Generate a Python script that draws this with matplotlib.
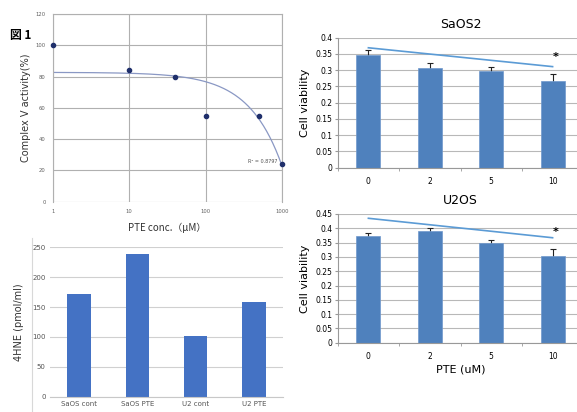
import numpy as np
import matplotlib
matplotlib.use("Agg")
import matplotlib.pyplot as plt
from matplotlib.lines import Line2D

# ---------------- data ----------------
conc_uM = [1, 10, 40, 100, 500, 1000]
complex5_activity = [100, 84, 79.5, 55, 55, 24]
r2_label = "R² = 0.8797"

hne_groups = ["SaOS cont", "SaOS PTE", "U2 cont", "U2 PTE"]
hne_values = [172, 238, 101, 158]

pte_labels = ["0", "2", "5", "10"]
saos2_viab = [0.347, 0.307, 0.299, 0.268]
saos2_err = [0.014, 0.015, 0.010, 0.019]
saos2_trend = [0.369, 0.311]   # hand-drawn trend line endpoints (at 0 and 10)
saos2_star = 0.342

u2os_viab = [0.373, 0.390, 0.349, 0.303]
u2os_err = [0.009, 0.010, 0.009, 0.024]
u2os_trend = [0.435, 0.367]
u2os_star = 0.388

FONTS = ['DejaVu Sans', 'Noto Sans CJK JP']
plt.rcParams['font.family'] = FONTS

fig = plt.figure(figsize=(5.77, 4.12), dpi=100)
W, H = 577, 412


def ax_px(left, top, right, bottom):
    return fig.add_axes([left / W, 1 - bottom / H, (right - left) / W, (bottom - top) / H])


# ---------------- top-left: Complex V activity ----------------
ax1 = ax_px(52.7, 14, 282, 201.7)
ax1.set_xscale('log')
ax1.set_xlim(1, 1000)
ax1.set_ylim(0, 120)
ax1.set_yticks(np.arange(0, 121, 20))
ax1.set_xticks([1, 10, 100, 1000])
ax1.set_xticklabels(["1", "10", "100", "1000"])
ax1.minorticks_off()
ax1.grid(True, color='#b0b0b0', lw=0.8)
ax1.set_axisbelow(True)
for s in ax1.spines.values():
    s.set_color('#b0b0b0')
    s.set_linewidth(0.8)
ax1.spines['bottom'].set_visible(False)
ax1.tick_params(length=0, labelsize=3.8, labelcolor='#606060', pad=5)
b, a = np.polyfit(conc_uM, complex5_activity, 1)
xs = np.logspace(0, 3, 300)
ax1.plot(xs, a + b * xs, color='#8a98c4', lw=0.9, zorder=2)
ax1.plot(conc_uM, complex5_activity, 'o', color='#1f2f6b', ms=3, zorder=3, clip_on=False)
ax1.text(880, 26, r2_label, fontsize=3.5, color='#505050', ha='right', va='center')
ax1.set_ylabel("Complex Ⅴ activity(%)", fontsize=7, labelpad=3, color='#333333')
fig.text(167 / W, 1 - 228 / H, "PTE conc.（μM）", fontsize=7, ha='center', va='center',
         color='#333333', family=['Noto Sans CJK JP', 'DejaVu Sans'])
fig.text(21 / W, 1 - 35 / H, "図 1", fontsize=8.5, fontweight='bold', ha='center', va='center',
         family=['Noto Sans CJK JP'])

# ---------------- bottom-left: 4HNE ----------------
ax2 = ax_px(50, 247.3, 283, 396.7)
xb = np.arange(len(hne_groups))
ax2.bar(xb, hne_values, width=0.4, color='#4472C4', zorder=2)
ax2.set_xlim(-0.5, 3.5)
ax2.set_ylim(0, 250)
ax2.set_yticks(np.arange(0, 251, 50))
ax2.set_xticks(xb)
ax2.set_xticklabels(hne_groups)
ax2.grid(True, axis='y', color='#d0d0d0', lw=0.8)
ax2.set_axisbelow(True)
for k in ['top', 'right', 'left']:
    ax2.spines[k].set_visible(False)
ax2.spines['bottom'].set_color('#c8c8c8')
ax2.tick_params(length=0, labelsize=5, labelcolor='#555555', pad=3)
ax2.set_ylabel("4HNE (pmol/ml)", fontsize=7, labelpad=6, color='#333333')
fig.add_artist(Line2D([32 / W, 32 / W], [0, 1 - 238 / H], color='#d8d8d8', lw=0.8))


# ---------------- right: viability bars ----------------
def viability(ax, vals, errs, trend, star, ymax, title):
    x = np.arange(len(vals))
    ax.bar(x, vals, width=0.39, color='#4F81BD', edgecolor='#6f98cc', lw=0.5, zorder=2)
    ax.errorbar(x, vals, yerr=errs, fmt='none', ecolor='#222222', elinewidth=0.8,
                capsize=2, capthick=0.8, zorder=1.5)
    ax.plot([x[0], x[-1]], trend, color='#5B9BD5', lw=1.2, zorder=3)
    ax.text(x[-1] + 0.05, star, "*", fontsize=8, fontweight='bold', ha='center', va='center')
    ax.set_xlim(-0.5, len(vals) - 0.5)
    ax.set_ylim(0, ymax)
    ax.set_yticks(np.arange(0, ymax + 1e-9, 0.05))
    ax.set_yticklabels([("%g" % v) for v in np.arange(0, ymax + 1e-9, 0.05).round(2)])
    ax.set_xticks(x)
    ax.set_xticklabels(pte_labels)
    ax.set_xticks(np.arange(-0.5, len(vals)), minor=True)
    ax.tick_params(axis='x', which='major', length=0, labelsize=5.5, pad=7)
    ax.tick_params(axis='x', which='minor', length=2, color='#999999')
    ax.tick_params(axis='y', length=2, color='#999999', labelsize=5.5, pad=2)
    ax.grid(True, axis='y', color='#b8b8b8', lw=0.8)
    ax.set_axisbelow(True)
    for k in ['top', 'right']:
        ax.spines[k].set_visible(False)
    for k in ['left', 'bottom']:
        ax.spines[k].set_color('#999999')
        ax.spines[k].set_linewidth(0.8)
    ax.set_title(title, fontsize=9, pad=7)
    ax.set_ylabel("Cell viability", fontsize=8, labelpad=4)


ax3 = ax_px(337.7, 37.7, 583.3, 167.7)
viability(ax3, saos2_viab, saos2_err, saos2_trend, saos2_star, 0.4, "SaOS2")

ax4 = ax_px(337.7, 214, 583.3, 342.7)
viability(ax4, u2os_viab, u2os_err, u2os_trend, u2os_star, 0.45, "U2OS")
ax4.set_xlabel("PTE (uM)", fontsize=8, labelpad=2)

fig.savefig("out.png", dpi=100)
